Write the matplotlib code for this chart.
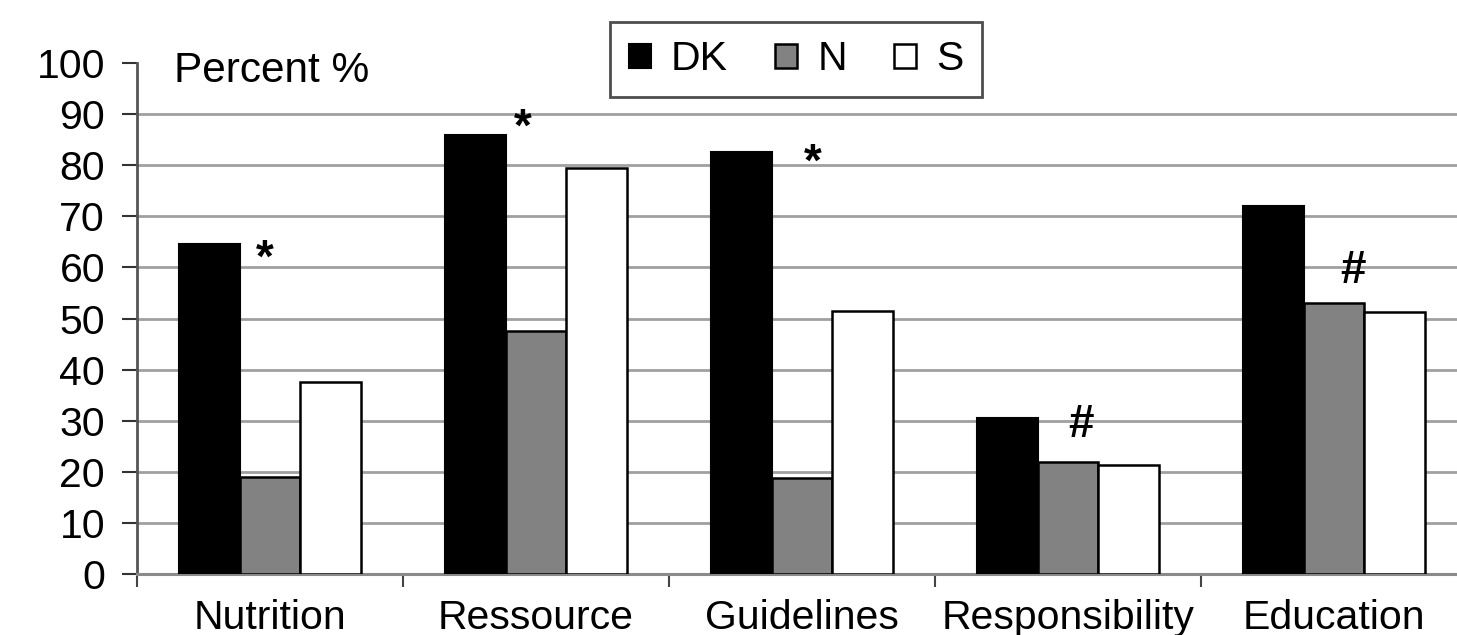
import numpy as np
import matplotlib
matplotlib.use("Agg")
import matplotlib.pyplot as plt

plt.rcParams['font.family'] = ['Liberation Sans', 'DejaVu Sans']

categories = ['Nutrition', 'Ressource', 'Guidelines', 'Responsibility', 'Education']
dk = [64.5, 86, 82.5, 30.5, 72]
n = [19, 47.5, 18.7, 22, 53]
s = [37.5, 79.5, 51.5, 21.3, 51.2]

# significance marks: (category index, symbol, level)
marks = [(0, '*', 64.2), (1, '*', 89.8), (2, '*', 83), (3, '#', 29.9), (4, '#', 59.9)]
mark_dx = [-0.02, -0.05, 0.04, 0.05, 0.07]

fig = plt.figure(figsize=(14.57, 6.35), dpi=100)
ax = fig.add_axes([137/1457, 61/635, 1330/1457, 511/635])

x = np.arange(len(categories))
w = 0.228
ax.bar(x - w, dk, w, color='black', edgecolor='black', linewidth=1.5, label='DK', zorder=3)
ax.bar(x, n, w, color='#828282', edgecolor='black', linewidth=1.8, label='N', zorder=3)
ax.bar(x + w, s, w, color='white', edgecolor='black', linewidth=1.8, label='S', zorder=3)

fs = 29.5
for (i, sym, lvl), dx in zip(marks, mark_dx):
    off = 5.0 if sym == '*' else 3.0
    ax.text(i + dx, lvl - off, sym, ha='center', va='baseline', fontsize=33,
            fontweight='bold', zorder=4)

ax.set_xlim(-0.5, len(categories) - 0.5)
ax.set_ylim(0, 100)
ax.set_yticks(np.arange(0, 101, 10))
ax.set_xticks(x)
ax.set_xticklabels(categories, fontsize=fs)
ax.set_xticks(np.arange(-0.5, len(categories) - 0.5, 1), minor=True)
ax.tick_params(axis='x', which='major', length=0, pad=18)
ax.tick_params(axis='x', which='minor', length=9, width=1.5, color='#444444', direction='out')
ax.tick_params(axis='y', labelsize=fs, length=11, width=1.5, color='#333333', pad=12)

ax.yaxis.grid(True, color='#a0a0a0', linewidth=2.0, zorder=0)
ax.set_axisbelow(True)
ax.get_ygridlines()[-1].set_visible(False)
ax.get_ygridlines()[0].set_visible(False)

for side in ['top', 'right']:
    ax.spines[side].set_visible(False)
ax.spines['left'].set_color('#555555')
ax.spines['left'].set_linewidth(2)
ax.spines['bottom'].set_color('#8a8a8a')
ax.spines['bottom'].set_linewidth(2.2)

ax.text(0.028, 0.985, 'Percent %', transform=ax.transAxes, fontsize=30.5,
        ha='left', va='center')

leg = ax.legend(ncol=3, loc='center', bbox_to_anchor=(796/1457, 1 - 59.5/635),
                bbox_transform=fig.transFigure, fontsize=fs, frameon=True,
                fancybox=False, handlelength=0.55, handleheight=0.55,
                handletextpad=0.48, columnspacing=1.15, borderpad=0.45,
                borderaxespad=0)
leg.get_frame().set_edgecolor('#222222')
leg.get_frame().set_linewidth(2)

fig.savefig('out.png', dpi=100)
